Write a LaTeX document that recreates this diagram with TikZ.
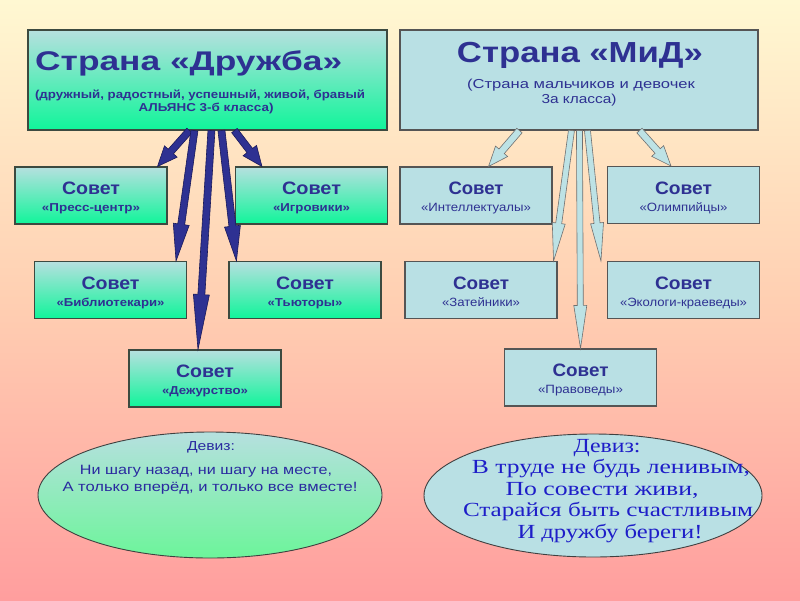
\documentclass[tikz,border=0pt]{standalone}
\usepackage{fontspec}
\usepackage{graphicx}
\setmainfont{Liberation Sans}
\newfontfamily\serifmotto{Liberation Serif}
\usetikzlibrary{calc,shapes.geometric}

\definecolor{navy}{HTML}{2E3192}
\definecolor{boxcyan}{HTML}{B6E0DF}
\definecolor{boxgreen}{HTML}{10F59A}
\definecolor{boxblue}{HTML}{B9E0E4}
\definecolor{gline}{HTML}{3C4A40}
\definecolor{bline}{HTML}{555555}
\definecolor{bgtop}{HTML}{FFF8D2}
\definecolor{bgmid}{HTML}{FFCFB2}
\definecolor{bgbot}{HTML}{FF9E9E}
\definecolor{arrdark}{HTML}{2E3192}
\definecolor{arrdarkline}{HTML}{1A1A5A}
\definecolor{arrlight}{HTML}{BDE2E5}
\definecolor{arrlightline}{HTML}{707070}
\definecolor{mottoA}{HTML}{2A2AA0}
\definecolor{mottoB}{HTML}{1E1EC8}
\definecolor{ellgreen}{HTML}{6CF59A}
\definecolor{ellline}{HTML}{404040}

% stretch text horizontally to a given width, keeping its height
\newcommand{\fw}[2]{\resizebox{#1pt}{\height}{#2}}
\newcommand{\sovetfont}{\fontsize{18}{18}\selectfont\bfseries}
\newcommand{\gsub}{\fontsize{11.5}{12}\selectfont\bfseries}
\newcommand{\bsub}{\fontsize{12}{12}\selectfont}
\newcommand{\mA}{\fontsize{13.5}{14}\selectfont}
\newcommand{\mB}{\serifmotto\fontsize{20}{20}\selectfont}

\newcommand{\fatarrow}[6]{%
  \coordinate (fa-h) at ($(#3)!#6!(#2)$);
  \filldraw[#1] ($(#2)!#4!90:(#3)$) -- ($(fa-h)!#4!90:(#3)$) -- ($(fa-h)!#5!90:(#3)$)
    -- (#3) -- ($(fa-h)!#5!-90:(#3)$) -- ($(fa-h)!#4!-90:(#3)$) -- ($(#2)!#4!-90:(#3)$) -- cycle;
}

% #1 style, #2 name, #3 centre, #4 width of "Совет", #5 width of subtitle, #6 subtitle
\newcommand{\council}[6]{%
  \node[#1, council] (#2) at (#3) {};
  \node[tx] at ($(#2.north)+(0,28.5)$) {\fw{#4}{\sovetfont Совет}};
  \node[tx] at ($(#2.north)+(0,45.5)$) {\fw{#5}{#6}};
}

\begin{document}
\begin{tikzpicture}[x=1pt,y=-1pt,
  gbox/.style={draw=gline, line width=1.1pt, top color=boxcyan, bottom color=boxgreen, inner sep=0pt},
  bbox/.style={draw=bline, line width=1.1pt, fill=boxblue, inner sep=0pt},
  council/.style={minimum width=152pt, minimum height=57pt},
  tx/.style={anchor=base, inner sep=0pt, text=navy},
  darrow/.style={fill=arrdark, draw=arrdarkline, line width=0.6pt, line join=miter},
  larrow/.style={fill=arrlight, draw=arrlightline, line width=0.6pt, line join=miter},
  ellbox/.style={ellipse, draw=ellline, line width=0.9pt, inner sep=0pt},
]
\shade[top color=bgtop, bottom color=bgbot, middle color=bgmid] (0,0) rectangle (800,600);
\useasboundingbox (0,0) rectangle (800,600);

% country boxes
\node[gbox, minimum width=359pt, minimum height=100pt] (druzhba) at (207.5,80) {};
\node[bbox, minimum width=358pt, minimum height=100pt] (mid) at (579,80) {};

\node[tx, anchor=base west] (t1) at (35,70) {\fw{307}{\fontsize{27}{27}\selectfont\bfseries Страна «Дружба»}};
\node[tx] (t1a) at (200,98) {\fw{330}{\gsub (дружный, радостный, успешный, живой, бравый}};
\node[tx] (t1b) at (206,111) {\fw{135}{\gsub АЛЬЯНС 3-б класса)}};

\node[tx] (t2) at (580,62) {\fw{246}{\fontsize{29}{29}\selectfont\bfseries Страна «МиД»}};
\node[tx] (t2a) at (581,88) {\fw{228}{\fontsize{13}{14}\selectfont (Страна мальчиков и девочек}};
\node[tx] (t2b) at (579,103) {\fw{75}{\fontsize{13}{14}\selectfont 3а класса)}};

% councils
\council{gbox}{press}{91,195.5}{58}{98}{\gsub «Пресс-центр»}
\council{gbox}{igr}{311.5,195.5}{59}{77}{\gsub «Игровики»}
\council{gbox}{bibl}{110.5,290}{58}{108}{\gsub «Библиотекари»}
\council{gbox}{tutor}{305,290}{58}{75}{\gsub «Тьюторы»}
\council{gbox}{duty}{205,378.5}{58}{86}{\gsub «Дежурство»}

\council{bbox}{intel}{476,195.5}{55}{110}{\bsub «Интеллектуалы»}
\council{bbox}{olymp}{683.5,195}{57}{88}{\bsub «Олимпийцы»}
\council{bbox}{zat}{481,290}{56}{78}{\bsub «Затейники»}
\council{bbox}{eco}{683.5,290}{57}{127}{\bsub «Экологи-краеведы»}
\council{bbox}{prav}{580.5,377.5}{56}{85}{\bsub «Правоведы»}

% arrow anchor coordinates
\coordinate (a1s) at ($(druzhba.south west)+(162,0)$);
\coordinate (a2s) at ($(druzhba.south west)+(167,0)$);
\coordinate (a3s) at ($(druzhba.south west)+(184,0)$);
\coordinate (a4s) at ($(druzhba.south west)+(194,0)$);
\coordinate (a5s) at ($(druzhba.south west)+(207,0)$);
\coordinate (a1e) at ($(press.north east)+(-10,0)$);
\coordinate (a2e) at ($(bibl.north east)+(-11,0)$);
\coordinate (a3e) at ($(duty.north)+(-7,0)$);
\coordinate (a4e) at ($(tutor.north west)+(8,0)$);
\coordinate (a5e) at ($(igr.north west)+(27,0)$);

\fatarrow{darrow}{a1s}{a1e}{3.5pt}{8.5pt}{20pt}
\fatarrow{darrow}{a2s}{a2e}{3.5pt}{8pt}{37pt}
\fatarrow{darrow}{a3s}{a3e}{3.5pt}{8pt}{55pt}
\fatarrow{darrow}{a4s}{a4e}{3.5pt}{8pt}{35pt}
\fatarrow{darrow}{a5s}{a5e}{3.5pt}{8.5pt}{20pt}

\coordinate (b1s) at ($(mid.south west)+(120,0)$);
\coordinate (b2s) at ($(mid.south west)+(172,0)$);
\coordinate (b3s) at ($(mid.south west)+(180,0)$);
\coordinate (b4s) at ($(mid.south west)+(188,0)$);
\coordinate (b5s) at ($(mid.south west)+(240,0)$);
\coordinate (b1e) at ($(intel.north east)+(-64,0)$);
\coordinate (b2e) at ($(zat.north east)+(-4,0)$);
\coordinate (b3e) at (prav.north);
\coordinate (b4e) at ($(eco.north west)+(-6,0)$);
\coordinate (b5e) at ($(olymp.north west)+(64,0)$);

\fatarrow{larrow}{b1s}{b1e}{3.5pt}{8pt}{20pt}
\fatarrow{larrow}{b2s}{b2e}{3pt}{6.5pt}{38pt}
\fatarrow{larrow}{b3s}{b3e}{3pt}{6.5pt}{43pt}
\fatarrow{larrow}{b4s}{b4e}{3pt}{6.5pt}{38pt}
\fatarrow{larrow}{b5s}{b5e}{3.5pt}{8pt}{20pt}

% mottos
\node[ellbox, minimum width=344pt, minimum height=126pt, top color=boxcyan, bottom color=ellgreen] (ellA) at (210,495) {};
\node[ellbox, minimum width=338pt, minimum height=123pt, fill=boxblue] (ellB) at (593,495.5) {};

\node[tx, text=mottoA] at (211,450) {\fw{48}{\fontsize{13}{13}\selectfont Девиз:}};
\node[tx, text=mottoA] at (206,474) {\fw{252}{\mA Ни шагу назад, ни шагу на месте,}};
\node[tx, text=mottoA] at (210,491) {\fw{295}{\mA А только вперёд, и только все вместе!}};

\node[tx, text=mottoB] at (607,452) {\fw{67}{\mB Девиз:}};
\node[tx, text=mottoB] at (611,473) {\fw{278}{\mB В труде не будь ленивым,}};
\node[tx, text=mottoB] at (602,495) {\fw{193}{\mB По совести живи,}};
\node[tx, text=mottoB] at (608,516) {\fw{290}{\mB Старайся быть счастливым}};
\node[tx, text=mottoB] at (610,538) {\fw{185}{\mB И дружбу береги!}};
\end{tikzpicture}
\end{document}
